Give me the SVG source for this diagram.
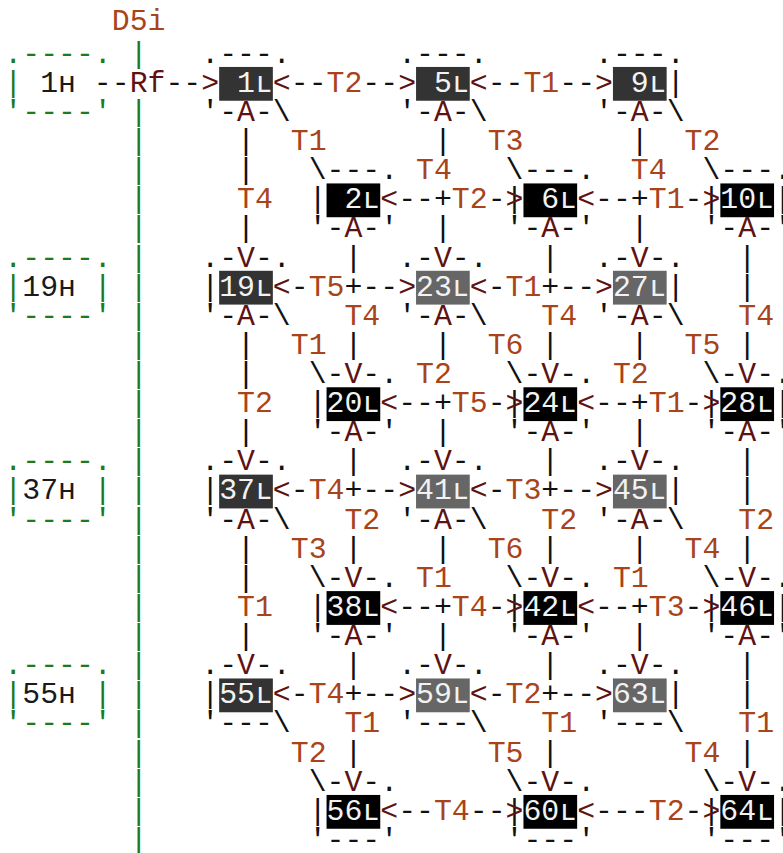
<svg xmlns="http://www.w3.org/2000/svg" width="783" height="853" viewBox="0 0 783 853">
<style>
  text { font-family: "Liberation Mono", "DejaVu Sans Mono", monospace; font-size: 29.83px; }
  .k { fill: #111111; }
  .m { fill: #5e1212; }
  .o { fill: #a8431a; }
  .g { fill: #1e7a1e; }
  .w { fill: #f2f2f2; }
  .h { fill: #1a1a1a; }
  .b1 { fill: #333333; }
  .b2 { fill: #666666; }
  .b3 { fill: #000000; }
</style>
<rect width="783" height="853" fill="#ffffff"/>

<!-- lifeline D5i -->
<g id="d5i">
  <text class="o" x="111.75" y="30">D5i</text>
  <g class="g">
    <text x="129.65" y="62.68">|</text>
    <text x="129.65" y="120.92">|</text><text x="129.65" y="150.04">|</text><text x="129.65" y="179.16">|</text>
    <text x="129.65" y="208.28">|</text><text x="129.65" y="237.40">|</text><text x="129.65" y="266.52">|</text>
    <text x="129.65" y="295.64">|</text><text x="129.65" y="324.76">|</text><text x="129.65" y="353.88">|</text>
    <text x="129.65" y="383.00">|</text><text x="129.65" y="412.12">|</text><text x="129.65" y="441.24">|</text>
    <text x="129.65" y="470.36">|</text><text x="129.65" y="499.48">|</text><text x="129.65" y="528.60">|</text>
    <text x="129.65" y="557.72">|</text><text x="129.65" y="586.84">|</text><text x="129.65" y="615.96">|</text>
    <text x="129.65" y="645.08">|</text><text x="129.65" y="674.20">|</text><text x="129.65" y="703.32">|</text>
    <text x="129.65" y="732.44">|</text><text x="129.65" y="761.56">|</text><text x="129.65" y="790.68">|</text>
    <text x="129.65" y="819.80">|</text><text x="129.65" y="848.92">|</text>
  </g>
</g>

<!-- host boxes -->
<g id="h1" transform="translate(4.35,91.8)">
  <text class="g" x="0" y="-29.12">.----.</text>
  <text class="g" x="0" y="0">|</text>
  <text class="h" x="35.8" y="0">1ʜ</text>
  <text class="g" x="0" y="29.12">'----'</text>
</g>
<g id="h19" transform="translate(4.35,295.64)">
  <text class="g" x="0" y="-29.12">.----.</text>
  <text class="g" x="0" y="0">|</text><text class="g" x="89.5" y="0">|</text>
  <text class="h" x="17.9" y="0">19ʜ</text>
  <text class="g" x="0" y="29.12">'----'</text>
</g>
<g id="h37" transform="translate(4.35,499.48)">
  <text class="g" x="0" y="-29.12">.----.</text>
  <text class="g" x="0" y="0">|</text><text class="g" x="89.5" y="0">|</text>
  <text class="h" x="17.9" y="0">37ʜ</text>
  <text class="g" x="0" y="29.12">'----'</text>
</g>
<g id="h55" transform="translate(4.35,703.32)">
  <text class="g" x="0" y="-29.12">.----.</text>
  <text class="g" x="0" y="0">|</text><text class="g" x="89.5" y="0">|</text>
  <text class="h" x="17.9" y="0">55ʜ</text>
  <text class="g" x="0" y="29.12">'----'</text>
</g>

<!-- top row nodes -->
<g id="n1" transform="translate(201.25,91.8)">
  <text class="k" x="0" y="-29.12">.---.</text>
  <rect class="b1" x="17.9" y="-24.85" width="53.7" height="33.8"/>
  <text class="w" x="35.8" y="0">1ʟ</text>
  <text class="k" x="0" y="29.12">'-<tspan class="m">A</tspan>-</text>
</g>
<g id="n5" transform="translate(398.15,91.8)">
  <text class="k" x="0" y="-29.12">.---.</text>
  <rect class="b1" x="17.9" y="-24.85" width="53.7" height="33.8"/>
  <text class="w" x="35.8" y="0">5ʟ</text>
  <text class="k" x="0" y="29.12">'-<tspan class="m">A</tspan>-</text>
</g>
<g id="n9" transform="translate(595.05,91.8)">
  <text class="k" x="0" y="-29.12">.---.</text>
  <rect class="b1" x="17.9" y="-24.85" width="53.7" height="33.8"/>
  <text class="w" x="35.8" y="0">9ʟ</text>
  <text class="k" x="71.6" y="0">|</text>
  <text class="k" x="0" y="29.12">'-<tspan class="m">A</tspan>-</text>
</g>

<!-- row 6 nodes -->
<g id="n2" transform="translate(308.65,208.28)">
  <text class="k" x="17.9" y="-29.12">---.</text>
  <text class="k" x="0" y="0">|</text>
  <rect class="b3" x="17.9" y="-24.85" width="53.7" height="33.8"/>
  <text class="w" x="35.8" y="0">2ʟ</text>
  <text class="k" x="0" y="29.12">'-<tspan class="m">A</tspan>-'</text>
</g>
<g id="n6" transform="translate(505.55,208.28)">
  <text class="k" x="17.9" y="-29.12">---.</text>
  <text class="k" x="0" y="0">|</text>
  <rect class="b3" x="17.9" y="-24.85" width="53.7" height="33.8"/>
  <text class="w" x="35.8" y="0">6ʟ</text>
  <text class="k" x="0" y="29.12">'-<tspan class="m">A</tspan>-'</text>
</g>
<g id="n10" transform="translate(702.45,208.28)">
  <text class="k" x="17.9" y="-29.12">---.</text>
  <text class="k" x="0" y="0">|</text>
  <rect class="b3" x="17.9" y="-24.85" width="53.7" height="33.8"/>
  <text class="w" x="17.9" y="0">10ʟ</text>
  <text class="k" x="71.6" y="0">|</text>
  <text class="k" x="0" y="29.12">'-<tspan class="m">A</tspan>-'</text>
</g>

<!-- row 9 nodes -->
<g id="n19" transform="translate(201.25,295.64)">
  <text class="k" x="0" y="-29.12">.-<tspan class="m">V</tspan>-.</text>
  <text class="k" x="0" y="0">|</text>
  <rect class="b1" x="17.9" y="-24.85" width="53.7" height="33.8"/>
  <text class="w" x="17.9" y="0">19ʟ</text>
  <text class="k" x="0" y="29.12">'-<tspan class="m">A</tspan>-</text>
</g>
<g id="n23" transform="translate(398.15,295.64)">
  <text class="k" x="0" y="-29.12">.-<tspan class="m">V</tspan>-.</text>
  <rect class="b2" x="17.9" y="-24.85" width="53.7" height="33.8"/>
  <text class="w" x="17.9" y="0">23ʟ</text>
  <text class="k" x="0" y="29.12">'-<tspan class="m">A</tspan>-</text>
</g>
<g id="n27" transform="translate(595.05,295.64)">
  <text class="k" x="0" y="-29.12">.-<tspan class="m">V</tspan>-.</text>
  <rect class="b2" x="17.9" y="-24.85" width="53.7" height="33.8"/>
  <text class="w" x="17.9" y="0">27ʟ</text>
  <text class="k" x="71.6" y="0">|</text>
  <text class="k" x="0" y="29.12">'-<tspan class="m">A</tspan>-</text>
</g>

<!-- row 13 nodes -->
<g id="n20" transform="translate(308.65,412.12)">
  <text class="k" x="17.9" y="-29.12">-<tspan class="m">V</tspan>-.</text>
  <text class="k" x="0" y="0">|</text>
  <rect class="b3" x="17.9" y="-24.85" width="53.7" height="33.8"/>
  <text class="w" x="17.9" y="0">20ʟ</text>
  <text class="k" x="0" y="29.12">'-<tspan class="m">A</tspan>-'</text>
</g>
<g id="n24" transform="translate(505.55,412.12)">
  <text class="k" x="17.9" y="-29.12">-<tspan class="m">V</tspan>-.</text>
  <text class="k" x="0" y="0">|</text>
  <rect class="b3" x="17.9" y="-24.85" width="53.7" height="33.8"/>
  <text class="w" x="17.9" y="0">24ʟ</text>
  <text class="k" x="0" y="29.12">'-<tspan class="m">A</tspan>-'</text>
</g>
<g id="n28" transform="translate(702.45,412.12)">
  <text class="k" x="17.9" y="-29.12">-<tspan class="m">V</tspan>-.</text>
  <text class="k" x="0" y="0">|</text>
  <rect class="b3" x="17.9" y="-24.85" width="53.7" height="33.8"/>
  <text class="w" x="17.9" y="0">28ʟ</text>
  <text class="k" x="71.6" y="0">|</text>
  <text class="k" x="0" y="29.12">'-<tspan class="m">A</tspan>-'</text>
</g>

<!-- row 16 nodes -->
<g id="n37" transform="translate(201.25,499.48)">
  <text class="k" x="0" y="-29.12">.-<tspan class="m">V</tspan>-.</text>
  <text class="k" x="0" y="0">|</text>
  <rect class="b1" x="17.9" y="-24.85" width="53.7" height="33.8"/>
  <text class="w" x="17.9" y="0">37ʟ</text>
  <text class="k" x="0" y="29.12">'-<tspan class="m">A</tspan>-</text>
</g>
<g id="n41" transform="translate(398.15,499.48)">
  <text class="k" x="0" y="-29.12">.-<tspan class="m">V</tspan>-.</text>
  <rect class="b2" x="17.9" y="-24.85" width="53.7" height="33.8"/>
  <text class="w" x="17.9" y="0">41ʟ</text>
  <text class="k" x="0" y="29.12">'-<tspan class="m">A</tspan>-</text>
</g>
<g id="n45" transform="translate(595.05,499.48)">
  <text class="k" x="0" y="-29.12">.-<tspan class="m">V</tspan>-.</text>
  <rect class="b2" x="17.9" y="-24.85" width="53.7" height="33.8"/>
  <text class="w" x="17.9" y="0">45ʟ</text>
  <text class="k" x="71.6" y="0">|</text>
  <text class="k" x="0" y="29.12">'-<tspan class="m">A</tspan>-</text>
</g>

<!-- row 20 nodes -->
<g id="n38" transform="translate(308.65,615.96)">
  <text class="k" x="17.9" y="-29.12">-<tspan class="m">V</tspan>-.</text>
  <text class="k" x="0" y="0">|</text>
  <rect class="b3" x="17.9" y="-24.85" width="53.7" height="33.8"/>
  <text class="w" x="17.9" y="0">38ʟ</text>
  <text class="k" x="0" y="29.12">'-<tspan class="m">A</tspan>-'</text>
</g>
<g id="n42" transform="translate(505.55,615.96)">
  <text class="k" x="17.9" y="-29.12">-<tspan class="m">V</tspan>-.</text>
  <text class="k" x="0" y="0">|</text>
  <rect class="b3" x="17.9" y="-24.85" width="53.7" height="33.8"/>
  <text class="w" x="17.9" y="0">42ʟ</text>
  <text class="k" x="0" y="29.12">'-<tspan class="m">A</tspan>-'</text>
</g>
<g id="n46" transform="translate(702.45,615.96)">
  <text class="k" x="17.9" y="-29.12">-<tspan class="m">V</tspan>-.</text>
  <text class="k" x="0" y="0">|</text>
  <rect class="b3" x="17.9" y="-24.85" width="53.7" height="33.8"/>
  <text class="w" x="17.9" y="0">46ʟ</text>
  <text class="k" x="71.6" y="0">|</text>
  <text class="k" x="0" y="29.12">'-<tspan class="m">A</tspan>-'</text>
</g>

<!-- row 23 nodes -->
<g id="n55" transform="translate(201.25,703.32)">
  <text class="k" x="0" y="-29.12">.-<tspan class="m">V</tspan>-.</text>
  <text class="k" x="0" y="0">|</text>
  <rect class="b1" x="17.9" y="-24.85" width="53.7" height="33.8"/>
  <text class="w" x="17.9" y="0">55ʟ</text>
  <text class="k" x="0" y="29.12">'---</text>
</g>
<g id="n59" transform="translate(398.15,703.32)">
  <text class="k" x="0" y="-29.12">.-<tspan class="m">V</tspan>-.</text>
  <rect class="b2" x="17.9" y="-24.85" width="53.7" height="33.8"/>
  <text class="w" x="17.9" y="0">59ʟ</text>
  <text class="k" x="0" y="29.12">'---</text>
</g>
<g id="n63" transform="translate(595.05,703.32)">
  <text class="k" x="0" y="-29.12">.-<tspan class="m">V</tspan>-.</text>
  <rect class="b2" x="17.9" y="-24.85" width="53.7" height="33.8"/>
  <text class="w" x="17.9" y="0">63ʟ</text>
  <text class="k" x="71.6" y="0">|</text>
  <text class="k" x="0" y="29.12">'---</text>
</g>

<!-- row 27 nodes -->
<g id="n56" transform="translate(308.65,819.8)">
  <text class="k" x="17.9" y="-29.12">-<tspan class="m">V</tspan>-.</text>
  <text class="k" x="0" y="0">|</text>
  <rect class="b3" x="17.9" y="-24.85" width="53.7" height="33.8"/>
  <text class="w" x="17.9" y="0">56ʟ</text>
  <text class="k" x="0" y="29.12">'---'</text>
</g>
<g id="n60" transform="translate(505.55,819.8)">
  <text class="k" x="17.9" y="-29.12">-<tspan class="m">V</tspan>-.</text>
  <text class="k" x="0" y="0">|</text>
  <rect class="b3" x="17.9" y="-24.85" width="53.7" height="33.8"/>
  <text class="w" x="17.9" y="0">60ʟ</text>
  <text class="k" x="0" y="29.12">'---'</text>
</g>
<g id="n64" transform="translate(702.45,819.8)">
  <text class="k" x="17.9" y="-29.12">-<tspan class="m">V</tspan>-.</text>
  <text class="k" x="0" y="0">|</text>
  <rect class="b3" x="17.9" y="-24.85" width="53.7" height="33.8"/>
  <text class="w" x="17.9" y="0">64ʟ</text>
  <text class="k" x="71.6" y="0">|</text>
  <text class="k" x="0" y="29.12">'---'</text>
</g>

<!-- connectors: arrows, links and their labels -->
<g id="connectors">
  <text y="91.8"><tspan class="k" x="93.85">--</tspan><tspan class="m" x="129.65">Rf</tspan><tspan class="k" x="165.45">--</tspan><tspan class="m" x="201.25">&gt;</tspan><tspan class="m" x="272.85">&lt;</tspan><tspan class="k" x="290.75">--</tspan><tspan class="o" x="326.55">T2</tspan><tspan class="k" x="362.35">--</tspan><tspan class="m" x="398.15">&gt;</tspan><tspan class="m" x="469.75">&lt;</tspan><tspan class="k" x="487.65">--</tspan><tspan class="o" x="523.45">T1</tspan><tspan class="k" x="559.25">--</tspan><tspan class="m" x="595.05">&gt;</tspan></text>
  <text class="k" y="120.92"><tspan x="272.85">\</tspan><tspan x="469.75">\</tspan><tspan x="666.65">\</tspan></text>
  <text y="150.04"><tspan class="k" x="237.05">|</tspan><tspan class="o" x="290.75">T1</tspan><tspan class="k" x="433.95">|</tspan><tspan class="o" x="487.65">T3</tspan><tspan class="k" x="630.85">|</tspan><tspan class="o" x="684.55">T2</tspan></text>
  <text y="179.16"><tspan class="k" x="237.05">|</tspan><tspan class="k" x="308.65">\</tspan><tspan class="o" x="416.05">T4</tspan><tspan class="k" x="505.55">\</tspan><tspan class="o" x="630.85">T4</tspan><tspan class="k" x="702.45">\</tspan></text>
  <text y="208.28"><tspan class="o" x="237.05">T4</tspan><tspan class="m" x="380.25">&lt;</tspan><tspan class="k" x="398.15">--+</tspan><tspan class="o" x="451.85">T2</tspan><tspan class="k" x="487.65">-</tspan><tspan class="m" x="505.55">&gt;</tspan><tspan class="m" x="577.15">&lt;</tspan><tspan class="k" x="595.05">--+</tspan><tspan class="o" x="648.75">T1</tspan><tspan class="k" x="684.55">-</tspan><tspan class="m" x="702.45">&gt;</tspan></text>
  <text class="k" y="237.40"><tspan x="237.05">|</tspan><tspan x="433.95">|</tspan><tspan x="630.85">|</tspan></text>
  <text class="k" y="266.52"><tspan x="344.45">|</tspan><tspan x="541.35">|</tspan><tspan x="738.25">|</tspan></text>
  <text y="295.64"><tspan class="m" x="272.85">&lt;</tspan><tspan class="k" x="290.75">-</tspan><tspan class="o" x="308.65">T5</tspan><tspan class="k" x="344.45">+--</tspan><tspan class="m" x="398.15">&gt;</tspan><tspan class="m" x="469.75">&lt;</tspan><tspan class="k" x="487.65">-</tspan><tspan class="o" x="505.55">T1</tspan><tspan class="k" x="541.35">+--</tspan><tspan class="m" x="595.05">&gt;</tspan><tspan class="k" x="738.25">|</tspan></text>
  <text y="324.76"><tspan class="k" x="272.85">\</tspan><tspan class="o" x="344.45">T4</tspan><tspan class="k" x="469.75">\</tspan><tspan class="o" x="541.35">T4</tspan><tspan class="k" x="666.65">\</tspan><tspan class="o" x="738.25">T4</tspan></text>
  <text y="353.88"><tspan class="k" x="237.05">|</tspan><tspan class="o" x="290.75">T1</tspan><tspan class="k" x="344.45">|</tspan><tspan class="k" x="433.95">|</tspan><tspan class="o" x="487.65">T6</tspan><tspan class="k" x="541.35">|</tspan><tspan class="k" x="630.85">|</tspan><tspan class="o" x="684.55">T5</tspan><tspan class="k" x="738.25">|</tspan></text>
  <text y="383.00"><tspan class="k" x="237.05">|</tspan><tspan class="k" x="308.65">\</tspan><tspan class="o" x="416.05">T2</tspan><tspan class="k" x="505.55">\</tspan><tspan class="o" x="612.95">T2</tspan><tspan class="k" x="702.45">\</tspan></text>
  <text y="412.12"><tspan class="o" x="237.05">T2</tspan><tspan class="m" x="380.25">&lt;</tspan><tspan class="k" x="398.15">--+</tspan><tspan class="o" x="451.85">T5</tspan><tspan class="k" x="487.65">-</tspan><tspan class="m" x="505.55">&gt;</tspan><tspan class="m" x="577.15">&lt;</tspan><tspan class="k" x="595.05">--+</tspan><tspan class="o" x="648.75">T1</tspan><tspan class="k" x="684.55">-</tspan><tspan class="m" x="702.45">&gt;</tspan></text>
  <text class="k" y="441.24"><tspan x="237.05">|</tspan><tspan x="433.95">|</tspan><tspan x="630.85">|</tspan></text>
  <text class="k" y="470.36"><tspan x="344.45">|</tspan><tspan x="541.35">|</tspan><tspan x="738.25">|</tspan></text>
  <text y="499.48"><tspan class="m" x="272.85">&lt;</tspan><tspan class="k" x="290.75">-</tspan><tspan class="o" x="308.65">T4</tspan><tspan class="k" x="344.45">+--</tspan><tspan class="m" x="398.15">&gt;</tspan><tspan class="m" x="469.75">&lt;</tspan><tspan class="k" x="487.65">-</tspan><tspan class="o" x="505.55">T3</tspan><tspan class="k" x="541.35">+--</tspan><tspan class="m" x="595.05">&gt;</tspan><tspan class="k" x="738.25">|</tspan></text>
  <text y="528.60"><tspan class="k" x="272.85">\</tspan><tspan class="o" x="344.45">T2</tspan><tspan class="k" x="469.75">\</tspan><tspan class="o" x="541.35">T2</tspan><tspan class="k" x="666.65">\</tspan><tspan class="o" x="738.25">T2</tspan></text>
  <text y="557.72"><tspan class="k" x="237.05">|</tspan><tspan class="o" x="290.75">T3</tspan><tspan class="k" x="344.45">|</tspan><tspan class="k" x="433.95">|</tspan><tspan class="o" x="487.65">T6</tspan><tspan class="k" x="541.35">|</tspan><tspan class="k" x="630.85">|</tspan><tspan class="o" x="684.55">T4</tspan><tspan class="k" x="738.25">|</tspan></text>
  <text y="586.84"><tspan class="k" x="237.05">|</tspan><tspan class="k" x="308.65">\</tspan><tspan class="o" x="416.05">T1</tspan><tspan class="k" x="505.55">\</tspan><tspan class="o" x="612.95">T1</tspan><tspan class="k" x="702.45">\</tspan></text>
  <text y="615.96"><tspan class="o" x="237.05">T1</tspan><tspan class="m" x="380.25">&lt;</tspan><tspan class="k" x="398.15">--+</tspan><tspan class="o" x="451.85">T4</tspan><tspan class="k" x="487.65">-</tspan><tspan class="m" x="505.55">&gt;</tspan><tspan class="m" x="577.15">&lt;</tspan><tspan class="k" x="595.05">--+</tspan><tspan class="o" x="648.75">T3</tspan><tspan class="k" x="684.55">-</tspan><tspan class="m" x="702.45">&gt;</tspan></text>
  <text class="k" y="645.08"><tspan x="237.05">|</tspan><tspan x="433.95">|</tspan><tspan x="630.85">|</tspan></text>
  <text class="k" y="674.20"><tspan x="344.45">|</tspan><tspan x="541.35">|</tspan><tspan x="738.25">|</tspan></text>
  <text y="703.32"><tspan class="m" x="272.85">&lt;</tspan><tspan class="k" x="290.75">-</tspan><tspan class="o" x="308.65">T4</tspan><tspan class="k" x="344.45">+--</tspan><tspan class="m" x="398.15">&gt;</tspan><tspan class="m" x="469.75">&lt;</tspan><tspan class="k" x="487.65">-</tspan><tspan class="o" x="505.55">T2</tspan><tspan class="k" x="541.35">+--</tspan><tspan class="m" x="595.05">&gt;</tspan><tspan class="k" x="738.25">|</tspan></text>
  <text y="732.44"><tspan class="k" x="272.85">\</tspan><tspan class="o" x="344.45">T1</tspan><tspan class="k" x="469.75">\</tspan><tspan class="o" x="541.35">T1</tspan><tspan class="k" x="666.65">\</tspan><tspan class="o" x="738.25">T1</tspan></text>
  <text y="761.56"><tspan class="o" x="290.75">T2</tspan><tspan class="k" x="344.45">|</tspan><tspan class="o" x="487.65">T5</tspan><tspan class="k" x="541.35">|</tspan><tspan class="o" x="684.55">T4</tspan><tspan class="k" x="738.25">|</tspan></text>
  <text class="k" y="790.68"><tspan x="308.65">\</tspan><tspan x="505.55">\</tspan><tspan x="702.45">\</tspan></text>
  <text y="819.8"><tspan class="m" x="380.25">&lt;</tspan><tspan class="k" x="398.15">--</tspan><tspan class="o" x="433.95">T4</tspan><tspan class="k" x="469.75">--</tspan><tspan class="m" x="505.55">&gt;</tspan><tspan class="m" x="577.15">&lt;</tspan><tspan class="k" x="595.05">---</tspan><tspan class="o" x="648.75">T2</tspan><tspan class="k" x="684.55">-</tspan><tspan class="m" x="702.45">&gt;</tspan></text>
</g>
</svg>
